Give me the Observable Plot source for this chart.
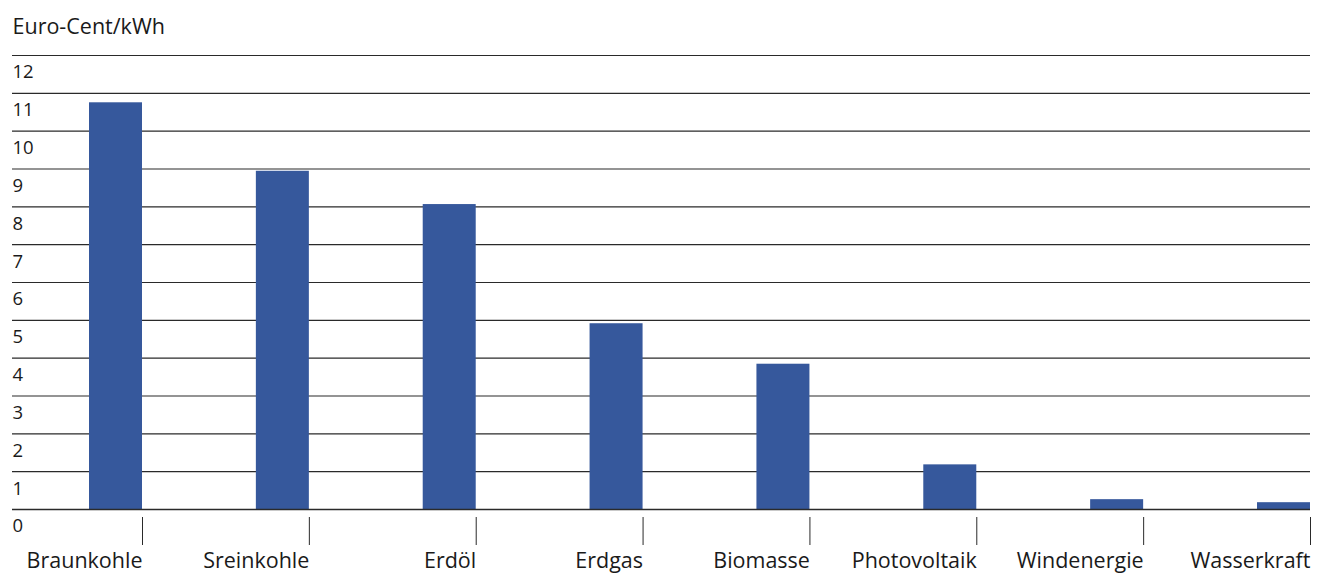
<!DOCTYPE html>
<html>
<head>
<meta charset="utf-8">
<script src="https://cdn.jsdelivr.net/npm/d3@7"></script>
<script src="https://cdn.jsdelivr.net/npm/@observablehq/plot@0.6"></script>
<style>
  html, body { margin: 0; padding: 0; background: #fff; }
  #chart svg { display: block; }
</style>
</head>
<body>
<div id="chart"></div>
<script>
// External costs of electricity generation by energy source
const categories = ["Braunkohle", "Sreinkohle", "Erdöl", "Erdgas", "Biomasse", "Photovoltaik", "Windenergie", "Wasserkraft"];
const costs = [10.75, 8.94, 8.06, 4.91, 3.84, 1.18, 0.26, 0.18];
const yTicks = [0, 1, 2, 3, 4, 5, 6, 7, 8, 9, 10, 11, 12];
const unitLabel = "Euro-Cent/kWh";

// each category occupies one slot; its bar sits at the right end of the slot
const rows = categories.map((name, i) => ({name, slot: i + 1, value: costs[i]}));

const W = 1327, H = 574;
const mLeft = 12, mRight = 17, mTop = 55, mBottom = 65;
const firstTickPx = 142;                       // pixel position of slot 1
const slotPx = (W - mRight - firstTickPx) / (categories.length - 1);
const xStart = 1 - (firstTickPx - mLeft) / slotPx;
const barW = 53 / slotPx;

const ink = "#1a1a1a";
const barColor = "#36589c";
const labelSize = 21.5;

const chart = Plot.plot({
  width: W,
  height: H,
  marginLeft: mLeft,
  marginRight: mRight,
  marginTop: mTop,
  marginBottom: mBottom,
  style: {fontFamily: "'Open Sans', sans-serif", fontSize: "18.5px", color: ink, background: "#fff"},
  x: {type: "linear", domain: [xStart, categories.length], axis: null},
  y: {domain: [0, 12], axis: null},
  marks: [
    Plot.ruleY(yTicks, {y: d => d, stroke: "#2a2a2a", strokeWidth: 1.2}),
    Plot.rectY(rows, {x1: d => d.slot - barW, x2: d => d.slot, y1: 0, y2: "value", fill: barColor}),
    Plot.ruleY([0], {stroke: "#2a2a2a", strokeWidth: 1.4}),
    Plot.text(yTicks, {y: d => d, text: d => String(d), frameAnchor: "left", textAnchor: "start", dy: 17, fill: ink}),
    Plot.axisX({ticks: rows.map(d => d.slot), tickFormat: s => categories[s - 1], tickSize: 28, dy: 8,
      textAnchor: "end", tickPadding: 7, stroke: "#2a2a2a", fill: ink, fontSize: labelSize}),
    Plot.text([unitLabel], {frameAnchor: "top-left", textAnchor: "start", lineAnchor: "middle", dy: -28,
      fill: ink, fontSize: labelSize})
  ]
});

document.getElementById("chart").append(chart);
</script>
</body>
</html>
